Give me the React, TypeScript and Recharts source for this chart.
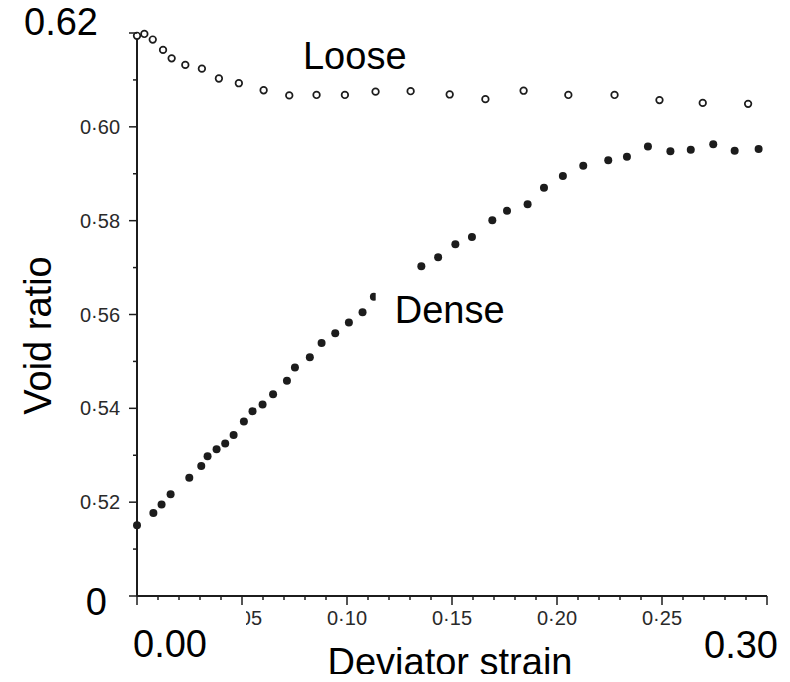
import { ScatterChart, Scatter, XAxis, YAxis, ReferenceDot } from "recharts";

// loose sample (open circles)
const looseStrain = [0, 0.0035, 0.0075, 0.0124, 0.0165, 0.023, 0.0309, 0.039, 0.0485, 0.0603, 0.0725, 0.0855, 0.099, 0.1136, 0.1303, 0.1489, 0.1659, 0.1841, 0.2054, 0.2274, 0.2488, 0.2694, 0.291];
const looseRatio = [0.6194, 0.6198, 0.6186, 0.6164, 0.6146, 0.6132, 0.6124, 0.6103, 0.6093, 0.6078, 0.6067, 0.6068, 0.6068, 0.6075, 0.6076, 0.6069, 0.6059, 0.6077, 0.6068, 0.6068, 0.6057, 0.6051, 0.6049];

// dense sample (filled dots)
const denseStrain = [0, 0.0078, 0.0117, 0.016, 0.0249, 0.0306, 0.0336, 0.0379, 0.042, 0.046, 0.0509, 0.055, 0.0598, 0.0648, 0.0714, 0.0752, 0.0823, 0.0879, 0.0944, 0.1009, 0.1074, 0.1128, 0.1354, 0.1434, 0.1516, 0.1595, 0.1692, 0.1762, 0.186, 0.1938, 0.2028, 0.2125, 0.2244, 0.2333, 0.2433, 0.254, 0.2637, 0.2744, 0.2846, 0.296];
const denseRatio = [0.5151, 0.5177, 0.5195, 0.5217, 0.5252, 0.5277, 0.5298, 0.5313, 0.5325, 0.5343, 0.5372, 0.5394, 0.5408, 0.543, 0.5459, 0.5487, 0.5509, 0.5539, 0.556, 0.5583, 0.5605, 0.5638, 0.5703, 0.5722, 0.575, 0.5765, 0.5801, 0.5821, 0.5835, 0.587, 0.5895, 0.5917, 0.5929, 0.5936, 0.5958, 0.5948, 0.5951, 0.5963, 0.5949, 0.5953];

// reversed so the 0.00 overlay is drawn last
const strainTicks = [0.3, 0.29, 0.28, 0.27, 0.26, 0.25, 0.24, 0.23, 0.22, 0.21, 0.2, 0.19, 0.18, 0.17, 0.16, 0.15, 0.14, 0.13, 0.12, 0.11, 0.1, 0.09, 0.08, 0.07, 0.06, 0.05, 0.04, 0.03, 0.02, 0.01, 0];
const ratioTicks = [0.5, 0.51, 0.52, 0.53, 0.54, 0.55, 0.56, 0.57, 0.58, 0.59, 0.6, 0.61, 0.62];

const curveLabels = [
  { text: "Loose", strain: 0.1037, ratio: 0.6123, box: false },
  { text: "Dense", strain: 0.1489, ratio: 0.5582, box: true },
];

const looseData = looseStrain.map((x, i) => ({ x, y: looseRatio[i] }));
const denseData = denseStrain.map((x, i) => ({ x, y: denseRatio[i] }));

const INK = "#1c1c1c";
const BIG = { fontFamily: "'Liberation Sans', Arial, sans-serif", fontSize: 38, fill: "#000" };
const SMALL = { fontFamily: "'Liberation Sans', Arial, sans-serif", fontSize: 20, fill: "#2a2a2a" };

const dot = (v: number) => v.toFixed(2).replace(".", "\u00b7");

function RatioTick(props: any) {
  const { x, y, payload } = props;
  const v = Math.round(payload.value * 100);
  const major = v % 2 === 0;
  let label = null;
  if (v === 62) {
    label = <text x={x - 39} y={y + 2} textAnchor="end" {...BIG}>0.62</text>;
  } else if (v === 50) {
    label = <text x={x - 30} y={y + 19} textAnchor="end" {...BIG}>0</text>;
  } else if (major) {
    label = <text x={x - 17} y={y + 7} textAnchor="end" {...SMALL}>{dot(payload.value)}</text>;
  }
  return (
    <g>
      <line x1={x - (major ? 8 : 4)} y1={y} x2={x} y2={y} stroke={INK} strokeWidth={1.5} />
      {label}
    </g>
  );
}

function StrainTick(props: any) {
  const { x, y, payload } = props;
  const v = Math.round(payload.value * 100);
  const major = v % 5 === 0;
  let label = null;
  if (v === 0) {
    label = (
      <g>
        <rect x={x - 9} y={y + 10} width={118} height={60} fill="#fff" />
        <text x={x - 4} y={y + 61} textAnchor="start" {...BIG}>0.00</text>
      </g>
    );
  } else if (v === 30) {
    label = <text x={x + 11} y={y + 62} textAnchor="end" {...BIG}>0.30</text>;
  } else if (major) {
    label = <text x={x} y={y + 29} textAnchor="middle" {...SMALL}>{dot(payload.value)}</text>;
  }
  return (
    <g>
      <line x1={x} y1={y} x2={x} y2={y + (major ? 9 : 4)} stroke={INK} strokeWidth={1.5} />
      {label}
    </g>
  );
}

export default function App() {
  return (
    <div style={{ margin: -8 }}>
      <ScatterChart width={790} height={682} margin={{ top: 33, right: 23, bottom: 0, left: 0 }}>
        <XAxis
          type="number"
          dataKey="x"
          domain={[0, 0.3]}
          ticks={strainTicks}
          interval={0}
          height={86}
          tickSize={0}
          tickMargin={0}
          tickLine={false}
          axisLine={{ stroke: INK, strokeWidth: 2 }}
          tick={StrainTick}
          label={(p: any) => {
            const vb = p.viewBox;
            return (
              <text x={vb.x + vb.width / 2 - 2} y={vb.y + 79} textAnchor="middle" {...BIG}>
                Deviator strain
              </text>
            );
          }}
        />
        <YAxis
          type="number"
          dataKey="y"
          domain={[0.5, 0.62]}
          ticks={ratioTicks}
          interval={0}
          width={137}
          tickSize={0}
          tickMargin={0}
          tickLine={false}
          axisLine={{ stroke: INK, strokeWidth: 2 }}
          tick={RatioTick}
          label={(p: any) => {
            const vb = p.viewBox;
            const cx = vb.x + 51;
            const cy = vb.y + vb.height / 2 + 21;
            return (
              <text x={cx} y={cy} textAnchor="middle" transform={`rotate(-90 ${cx} ${cy})`} {...BIG}>
                Void ratio
              </text>
            );
          }}
        />
        <Scatter
          data={looseData}
          isAnimationActive={false}
          shape={(p: any) => <circle cx={p.cx} cy={p.cy} r={3.3} fill="#fff" stroke={INK} strokeWidth={1.7} />}
        />
        <Scatter
          data={denseData}
          isAnimationActive={false}
          shape={(p: any) => <circle cx={p.cx} cy={p.cy} r={4} fill={INK} />}
        />
        {curveLabels.map((l) => (
          <ReferenceDot
            key={l.text}
            x={l.strain}
            y={l.ratio}
            r={0}
            shape={(p: any) => (
              <g>
                {l.box && <rect x={p.cx - 74} y={p.cy - 38} width={140} height={50} fill="#fff" />}
                <text x={p.cx} y={p.cy} textAnchor="middle" {...BIG}>
                  {l.text}
                </text>
              </g>
            )}
          />
        ))}
      </ScatterChart>
    </div>
  );
}
